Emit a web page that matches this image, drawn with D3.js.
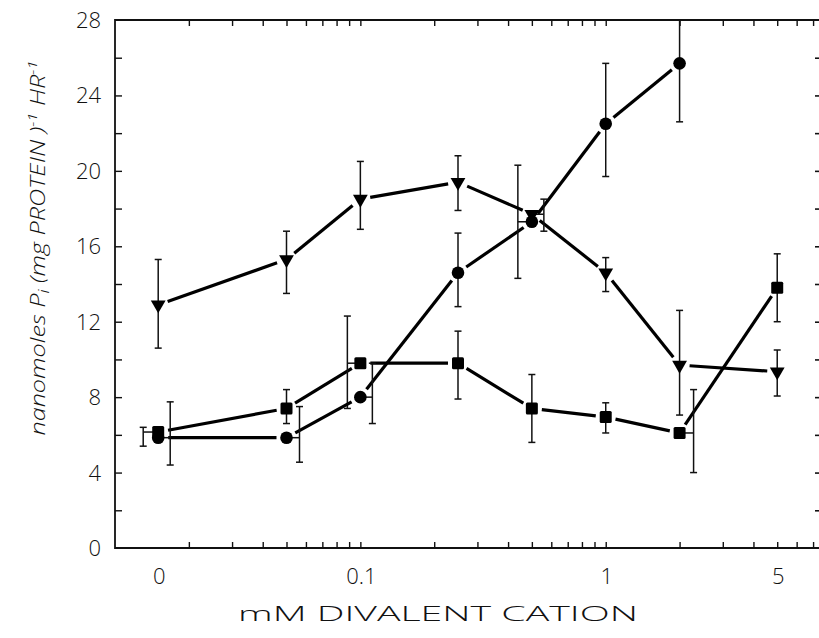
<!DOCTYPE html>
<html lang="en">
<head>
<meta charset="UTF-8">
<title>Pi release vs divalent cation</title>
<script src="https://d3js.org/d3.v7.min.js"></script>
<style>
    body { margin: 0; background: #fff; }
    svg { display: block; }
    text { font-family: "Open Sans", "DejaVu Sans", sans-serif; font-weight: 300; fill: #111; }
</style>
</head>
<body>
<div id="chart"></div>
<script>
// concentrations (mM); "0" is drawn at a fixed spot on the log axis
const concentrations = [0, 0.05, 0.1, 0.25, 0.5, 1, 2, 5];
const zeroPlotAt = 0.015;
const xTickValues = [0, 0.1, 1, 5];
const xTickLabels = ["0", "0.1", "1", "5"];
const yTickLabels = [0, 4, 8, 12, 16, 20, 24, 28];

// ▼ series
const triMean = [12.9, 15.3, 18.5, 19.4, 17.7, 14.6, 9.7, 9.35];
const triHigh = [15.3, 16.8, 20.5, 20.8, 18.5, 15.4, 12.6, 10.5];
const triLow  = [10.6, 13.5, 16.9, 17.9, 16.8, 13.6, 7.05, 8.06];

// ● series (no value at 5 mM)
const circMean = [5.85, 5.85, 8.0, 14.6, 17.3, 22.5, 25.7];
const circHigh = [7.75, 7.5, 9.8, 16.7, 20.3, 25.7, 29];
const circLow  = [4.4, 4.55, 6.6, 12.8, 14.3, 19.7, 22.6];

// ■ series
const sqMean = [6.15, 7.4, 9.8, 9.8, 7.4, 6.95, 6.1, 13.8];
const sqHigh = [6.4, 8.4, 12.3, 11.5, 9.2, 7.7, 8.4, 15.6];
const sqLow  = [5.4, 6.6, 7.4, 7.9, 5.6, 6.1, 4.0, 12.0];

// sideways shift (px) of some error bars, as drawn in the original figure
const barShift = {
    tri:  {4: 12},
    circ: {0: 12, 1: 13, 2: 12, 4: -14},
    sq:   {0: -15, 2: -13, 6: 14}
};

const W = 819, H = 638;
const pLeft = 115, pRight = 820, pTop = 20, pBottom = 548;

const svg = d3.select("#chart").append("svg")
    .attr("width", W).attr("height", H);

const x = d3.scaleLog().domain([0.01, 7.47]).range([pLeft, pRight]);
const y = d3.scaleLinear().domain([0, 28]).range([pBottom, pTop]);
const xPos = c => x(c === 0 ? zeroPlotAt : c);

svg.append("defs").append("clipPath").attr("id", "plot")
    .append("rect").attr("x", pLeft).attr("y", pTop)
    .attr("width", pRight - pLeft).attr("height", pBottom - pTop);

// frame (right side falls just off the page)
svg.append("path")
    .attr("d", `M${pRight + 2},${pTop}H${pLeft}V${pBottom}H${pRight + 2}`)
    .attr("fill", "none").attr("stroke", "#111").attr("stroke-width", 1.8);

// log ticks, inside, bottom and top
const logTicks = x.ticks().filter(v => v > 0.01 && v < 7.47);
svg.append("g").attr("transform", `translate(0,${pBottom})`)
    .call(d3.axisBottom(x).tickValues(logTicks).tickSize(-6).tickFormat(""))
    .call(g => g.select(".domain").remove())
    .call(g => g.selectAll("line").attr("stroke", "#111").attr("stroke-width", 1.4));
svg.append("g").attr("transform", `translate(0,${pTop})`)
    .call(d3.axisTop(x).tickValues(logTicks).tickSize(-6).tickFormat(""))
    .call(g => g.select(".domain").remove())
    .call(g => g.selectAll("line").attr("stroke", "#111").attr("stroke-width", 1.4));

// y ticks every 2, labels every 4
const yMinor = d3.range(2, 28, 2);
svg.append("g").attr("transform", `translate(${pLeft},0)`)
    .call(d3.axisLeft(y).tickValues(yMinor).tickSize(-7).tickFormat(""))
    .call(g => g.select(".domain").remove())
    .call(g => g.selectAll("line").attr("stroke", "#111").attr("stroke-width", 1.4));
svg.append("g").attr("transform", `translate(${pRight - 1},0)`)
    .call(d3.axisRight(y).tickValues(yMinor).tickSize(-4).tickFormat(""))
    .call(g => g.select(".domain").remove())
    .call(g => g.selectAll("line").attr("stroke", "#111").attr("stroke-width", 1.6));

svg.append("g").selectAll("text").data(yTickLabels).join("text")
    .attr("x", 101).attr("y", d => y(d) + 8)
    .attr("text-anchor", "end")
    .attr("font-size", 22)
    .text(d => d);

svg.append("g").selectAll("text").data(xTickValues).join("text")
    .attr("x", d => xPos(d) + 1).attr("y", 584)
    .attr("text-anchor", "middle")
    .attr("font-size", 22)
    .text((d, i) => xTickLabels[i]);

// axis titles
svg.append("text")
    .attr("x", 438).attr("y", 621)
    .attr("text-anchor", "middle")
    .attr("font-size", 21)
    .attr("textLength", 400).attr("lengthAdjust", "spacingAndGlyphs")
    .text("mM  DIVALENT  CATION");

const yTitle = svg.append("text")
    .attr("transform", "translate(45,248) rotate(-90)")
    .attr("text-anchor", "middle")
    .attr("font-size", 20)
    .attr("font-style", "italic")
    .attr("textLength", 375).attr("lengthAdjust", "spacingAndGlyphs");
yTitle.append("tspan").text("nanomoles  P");
yTitle.append("tspan").attr("font-size", 14).attr("dy", 4).text("i");
yTitle.append("tspan").attr("dy", -4).text(" (mg  PROTEIN )");
yTitle.append("tspan").attr("font-size", 13).attr("dy", -8).text("-1");
yTitle.append("tspan").attr("dy", 8).text(" HR");
yTitle.append("tspan").attr("font-size", 13).attr("dy", -8).text("-1");

// series
const series = [
    {key: "sq", mean: sqMean, high: sqHigh, low: sqLow},
    {key: "circ", mean: circMean, high: circHigh, low: circLow},
    {key: "tri", mean: triMean, high: triHigh, low: triLow}
];

const gap = 10;
const layer = svg.append("g").attr("clip-path", "url(#plot)");

series.forEach(s => {
    const pts = s.mean.map((m, i) => ({
        cx: xPos(concentrations[i]), cy: y(m),
        hi: y(s.high[i]), lo: y(s.low[i]),
        shift: barShift[s.key][i] || 0
    }));

    // connecting segments, stopping short of the markers
    const segs = d3.pairs(pts).map(([a, b]) => {
        const dx = b.cx - a.cx, dy = b.cy - a.cy, len = Math.hypot(dx, dy);
        const ux = dx / len, uy = dy / len;
        return [a.cx + ux * gap, a.cy + uy * gap, b.cx - ux * gap, b.cy - uy * gap];
    });
    layer.append("g").selectAll("line").data(segs).join("line")
        .attr("x1", d => d[0]).attr("y1", d => d[1])
        .attr("x2", d => d[2]).attr("y2", d => d[3])
        .attr("stroke", "#000").attr("stroke-width", 3.2);

    // error bars
    const eb = layer.append("g").attr("stroke", "#111").attr("stroke-width", 1.5);
    pts.forEach(p => {
        const bx = p.cx + p.shift;
        eb.append("line").attr("x1", bx).attr("x2", bx).attr("y1", p.hi).attr("y2", p.lo);
        eb.append("line").attr("x1", bx - 3.5).attr("x2", bx + 3.5).attr("y1", p.hi).attr("y2", p.hi);
        eb.append("line").attr("x1", bx - 3.5).attr("x2", bx + 3.5).attr("y1", p.lo).attr("y2", p.lo);
        if (p.shift) {
            eb.append("line").attr("x1", p.cx).attr("x2", bx).attr("y1", p.cy).attr("y2", p.cy);
        }
    });

    // markers
    const mk = layer.append("g").attr("fill", "#000");
    if (s.key === "circ") {
        mk.selectAll("circle").data(pts).join("circle")
            .attr("cx", d => d.cx).attr("cy", d => d.cy).attr("r", 6.3);
    } else if (s.key === "sq") {
        mk.selectAll("rect").data(pts).join("rect")
            .attr("x", d => d.cx - 6).attr("y", d => d.cy - 6)
            .attr("width", 12).attr("height", 12).attr("rx", 1.5);
    } else {
        const tri = d3.symbol().type(d3.symbolTriangle).size(95);
        mk.selectAll("path").data(pts).join("path")
            .attr("d", tri)
            .attr("transform", d => `translate(${d.cx},${d.cy}) rotate(180)`);
    }
});
</script>
</body>
</html>
